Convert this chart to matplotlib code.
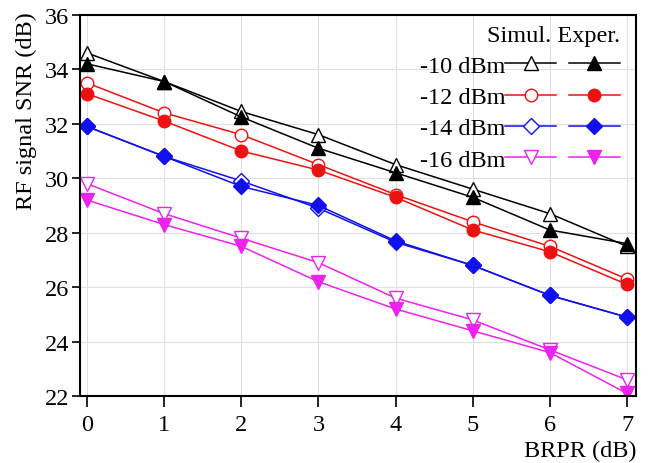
import numpy as np
import matplotlib
matplotlib.use("Agg")
import matplotlib.pyplot as plt

plt.rcParams['font.family'] = ['Liberation Serif', 'DejaVu Serif']

# BRPR sweep and SNR at four received optical powers
brpr = [0, 1, 2, 3, 4, 5, 6, 7]
powers = ['-10 dBm', '-12 dBm', '-14 dBm', '-16 dBm']

sim_10 = [34.6, 33.55, 32.45, 31.6, 30.5, 29.6, 28.7, 27.5]
exp_10 = [34.2, 33.55, 32.25, 31.1, 30.2, 29.3, 28.1, 27.6]
sim_12 = [33.5, 32.4, 31.6, 30.5, 29.4, 28.4, 27.5, 26.3]
exp_12 = [33.1, 32.1, 31.0, 30.3, 29.3, 28.1, 27.3, 26.1]
sim_14 = [31.9, 30.8, 29.9, 28.9, 27.65, 26.8, 25.7, 24.9]
exp_14 = [31.9, 30.8, 29.7, 29.0, 27.7, 26.8, 25.7, 24.9]
sim_16 = [29.8, 28.7, 27.8, 26.9, 25.6, 24.8, 23.7, 22.6]
exp_16 = [29.2, 28.3, 27.5, 26.2, 25.2, 24.4, 23.6, 22.1]

colors = ['black', '#ee1111', '#1111ee', '#ee22ee']
markers = ['^', 'o', 'D', 'v']
sims = [sim_10, sim_12, sim_14, sim_16]
exps = [exp_10, exp_12, exp_14, exp_16]

fs = 17.5

fig = plt.figure(figsize=(6.56, 4.64), dpi=100)
ax = fig.add_axes([0.122, 0.144, 0.848, 0.822])

sim_handles, exp_handles = [], []
for c, m, s, e in zip(colors, markers, sims, exps):
    ms = {'^': 10, 'v': 10, 'o': 9, 'D': 8}[m]
    h1, = ax.plot(brpr, s, color=c, lw=1.1, marker=m, ms=ms,
                  mfc='white', mec=c, mew=1.0)
    h2, = ax.plot(brpr, e, color=c, lw=1.1, marker=m, ms=ms,
                  mfc=c, mec=c)
    sim_handles.append(h1)
    exp_handles.append(h2)

ax.set_xlim(-0.09, 7.12)
ax.set_ylim(22, 36)
ax.set_xticks(brpr)
ax.set_yticks(np.arange(22, 37, 2))
ax.grid(True, color='#e0e0e0', lw=0.8)
for sp in ax.spines.values():
    sp.set_linewidth(1.5)
ax.tick_params(direction='out', length=6, width=1.2, labelsize=fs, pad=2)
ax.tick_params(axis='x', length=8, pad=5)

ax.set_ylabel('RF signal SNR (dB)', fontsize=fs)
ax.yaxis.set_label_coords(-0.115, 1.01)
ax.yaxis.label.set_va('top')
ax.yaxis.label.set_ha('right')
ax.set_xlabel('BRPR (dB)', fontsize=fs)
ax.xaxis.set_label_coords(1.0, -0.142)
ax.xaxis.label.set_ha('right')
ax.xaxis.label.set_va('center')

handles = sim_handles + exp_handles
labels = powers + [''] * 4
leg = ax.legend(handles, labels, ncol=2, markerfirst=False, frameon=False,
                loc='upper right', bbox_to_anchor=(1.005, 1.025),
                fontsize=fs, handlelength=2.1, handletextpad=0.0,
                columnspacing=0.5, labelspacing=0.38,
                title='Simul. Exper.', title_fontsize=fs,
                alignment='right', borderpad=0.3)

fig.savefig('out.png', dpi=100)
